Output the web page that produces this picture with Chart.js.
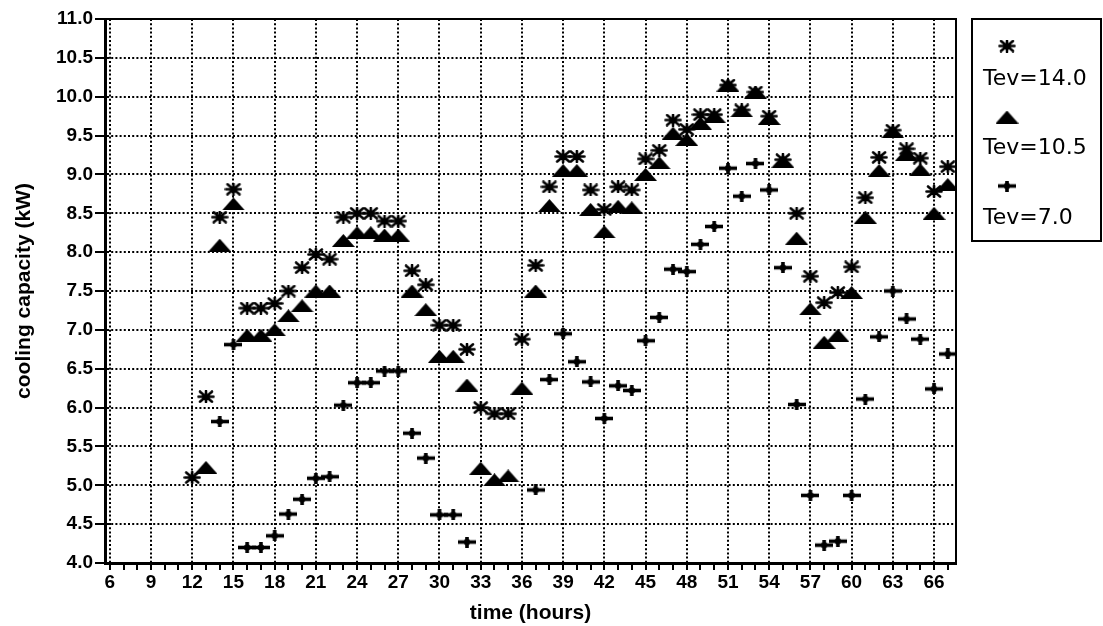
<!DOCTYPE html>
<html lang="en">
<head>
  <meta charset="UTF-8">
  <title>Cooling capacity vs time</title>
  <script src="https://cdn.jsdelivr.net/npm/chart.js"></script>
  <style>
    html, body { margin: 0; padding: 0; background: #fff; }
    canvas { display: block; }
  </style>
</head>
<body>
  <canvas id="coolingChart" width="1103" height="626"></canvas>

  <script>
    // hours 12..67, one reading per hour (null = no point on the plot)
    const hours = [];
    for (let h = 12; h <= 67; h++) hours.push(h);

    const tev14 = [5.10, 6.14, 8.45, 8.81, 7.28, 7.28, 7.34, 7.50, 7.80, 7.97, 7.91, 8.45, 8.50, 8.50,
      8.40, 8.40, 7.76, 7.58, 7.06, 7.06, 6.75, 6.00, 5.92, 5.92, 6.88, 7.83, 8.84, 9.23, 9.23, 8.80,
      8.55, 8.84, 8.80, 9.20, 9.31, 9.70, 9.58, 9.77, 9.77, 10.15, 9.83, 10.06, 9.75, 9.19, 8.50, 7.69,
      7.35, 7.48, 7.81, 8.70, 9.22, 9.57, 9.33, 9.21, 8.78, 9.10];

    const tev105 = [null, 5.23, 8.09, 8.62, 6.93, 6.93, 7.00, 7.18, 7.31, 7.50, 7.50, 8.15, 8.25, 8.25,
      8.22, 8.22, 7.50, 7.26, 6.66, 6.66, 6.29, 5.22, 5.07, 5.12, 6.25, 7.50, 8.60, 9.05, 9.05, 8.55,
      8.26, 8.59, 8.57, 9.00, 9.15, 9.53, 9.45, 9.66, 9.75, 10.15, 9.82, 10.06, 9.72, 9.17, 8.18, 7.27,
      6.84, 6.93, 7.48, 8.45, 9.05, 9.55, 9.26, 9.06, 8.50, 8.87];

    const tev7 = [null, null, 5.82, 6.81, 4.20, 4.20, 4.35, 4.63, 4.82, 5.09, 5.11, 6.03, 6.32, 6.32,
      6.47, 6.47, 5.67, 5.35, 4.62, 4.62, 4.27, null, null, null, null, 4.94, 6.36, 6.95, 6.59, 6.33,
      5.86, 6.28, 6.22, 6.86, 7.16, 7.78, 7.75, 8.10, 8.33, 9.08, 8.72, 9.14, 8.80, 7.80, 6.04, 4.87,
      4.23, 4.28, 4.87, 6.11, 6.91, 7.50, 7.14, 6.88, 6.24, 6.69];

    const seriesLabels = ["Tev=14.0", "Tev=10.5", "Tev=7.0"];

    // marker images
    function makeMarker(w, h, draw) {
      const c = document.createElement("canvas");
      c.width = w; c.height = h;
      const g = c.getContext("2d");
      g.fillStyle = "#000"; g.strokeStyle = "#000";
      draw(g, w, h);
      return c;
    }
    const starMark = makeMarker(18, 13, (g, w, h) => {
      g.lineWidth = 2.6;
      g.lineCap = "round";
      g.beginPath();
      g.moveTo(1.5, h / 2); g.lineTo(w - 1.5, h / 2);
      g.moveTo(3, 1.5); g.lineTo(w - 3, h - 1.5);
      g.moveTo(3, h - 1.5); g.lineTo(w - 3, 1.5);
      g.moveTo(w / 2, 1); g.lineTo(w / 2, h - 1);
      g.stroke();
    });
    const triMark = makeMarker(23, 13, (g, w, h) => {
      g.beginPath();
      g.moveTo(w / 2, 0); g.lineTo(w, h); g.lineTo(0, h); g.closePath();
      g.fill();
    });
    const plusMark = makeMarker(18, 11, (g, w, h) => {
      g.fillRect(0, h / 2 - 1.8, w, 3.6);
      g.fillRect(w / 2 - 1.8, 0, 3.6, h);
      g.beginPath(); g.arc(w / 2, h / 2, 3.2, 0, Math.PI * 2); g.fill();
    });
    const markers = [starMark, triMark, plusMark];

    function toPoints(values) {
      const pts = [];
      values.forEach((v, i) => { if (v !== null) pts.push({ x: hours[i], y: v }); });
      return pts;
    }

    const framePlugin = {
      id: "frame",
      afterDraw(chart) {
        const { ctx, chartArea: a } = chart;
        ctx.save();
        ctx.strokeStyle = "#000";
        ctx.lineWidth = 2;
        ctx.beginPath();
        ctx.moveTo(a.left, a.top); ctx.lineTo(a.right, a.top); ctx.lineTo(a.right, a.bottom);
        ctx.stroke();

        // legend box
        const bx = 972, by = 19, bw = 129, bh = 222;
        ctx.strokeRect(bx, by, bw, bh);
        ctx.font = "22px 'DejaVu Sans', sans-serif";
        ctx.fillStyle = "#000";
        ctx.textBaseline = "middle";
        ctx.textAlign = "left";
        const rows = [46, 117, 186];
        const texts = [79, 148, 218];
        markers.forEach((m, i) => {
          ctx.drawImage(m, 1007 - m.width / 2, rows[i] - m.height / 2);
          ctx.fillText(seriesLabels[i], 983, texts[i]);
        });
        ctx.restore();
      }
    };

    const xTicks = [];
    for (let v = 6; v <= 67; v++) xTicks.push(v);

    Chart.defaults.font.family = "'Liberation Sans', Arial, sans-serif";
    Chart.defaults.color = "#000";

    new Chart(document.getElementById("coolingChart"), {
      type: "scatter",
      data: {
        datasets: [tev14, tev105, tev7].map((vals, i) => ({
          label: seriesLabels[i],
          data: toPoints(vals),
          pointStyle: markers[i],
          pointRadius: 8,
          showLine: false
        }))
      },
      options: {
        responsive: false,
        animation: false,
        devicePixelRatio: 1,
        layout: { padding: { left: 0, right: 147, top: 19, bottom: 0 } },
        plugins: { legend: { display: false }, tooltip: { enabled: false } },
        scales: {
          x: {
            type: "linear",
            min: 5.65,
            max: 67.6,
            afterBuildTicks: axis => { axis.ticks = xTicks.map(v => ({ value: v })); },
            afterFit: axis => { axis.height = 63; },
            ticks: {
              autoSkip: false,
              maxRotation: 0,
              padding: 1,
              font: { size: 19, weight: "bold" },
              callback: v => (v % 3 === 0 ? v : "")
            },
            grid: {
              color: c => (c.tick && c.tick.value % 3 === 0 ? "#000" : "rgba(0,0,0,0)"),
              lineWidth: 2,
              tickColor: "#000",
              tickLength: 7,
              tickWidth: 2
            },
            border: { color: "#000", width: 3, dash: [2, 2.2] },
            title: {
              display: true,
              text: "time (hours)",
              font: { size: 21, weight: "bold" },
              padding: { top: 0, bottom: 0 }
            }
          },
          y: {
            min: 4,
            max: 11,
            afterFit: axis => { axis.width = 105; },
            ticks: {
              stepSize: 0.5,
              padding: 2,
              font: { size: 19, weight: "bold" },
              callback: v => v.toFixed(1)
            },
            grid: {
              color: "#000",
              lineWidth: 2,
              tickColor: "#000",
              tickLength: 10,
              tickWidth: 2
            },
            border: { color: "#000", width: 3, dash: [2, 2.2] },
            title: {
              display: true,
              text: "cooling capacity (kW)",
              font: { size: 21, weight: "bold" },
              padding: { top: 12, bottom: 0 }
            }
          }
        }
      },
      plugins: [framePlugin]
    });
  </script>
</body>
</html>
